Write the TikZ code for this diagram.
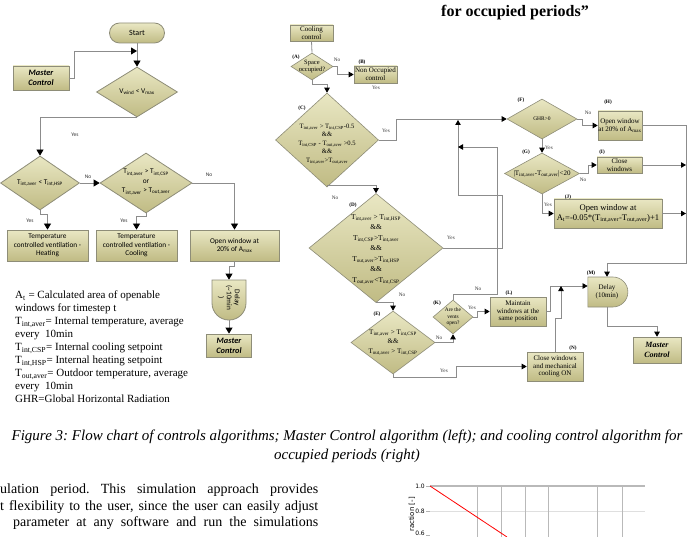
\documentclass[tikz,border=0pt]{standalone}
\usepackage{fontspec}
\setmainfont{Liberation Serif}
\newfontfamily\calib{Carlito}
\newfontfamily\chartf{DejaVu Sans}
\usetikzlibrary{shapes.geometric,shapes.misc,arrows.meta}
\definecolor{khL}{HTML}{E9E7C3}
\definecolor{khD}{HTML}{C0BB84}
\definecolor{bord}{HTML}{8E8D78}
\definecolor{lnc}{HTML}{8C8C8C}
\newcommand{\sbs}[1]{\textsubscript{#1}}
\frenchspacing
\tikzset{
 kh/.style={draw=bord, line width=0.8pt, top color=khL, bottom color=khD, inner sep=0pt, align=center},
 lbox/.style={kh, rectangle, font=\calib\fontsize{7.3}{8.6}\selectfont},
 ldia/.style={kh, diamond},
 ltxt/.style={font=\calib\fontsize{7.3}{9.5}\selectfont, inner sep=0pt, align=center},
 rbox/.style={kh, line width=0.6pt, rectangle, font=\fontsize{7}{7.8}\selectfont},
 rdia/.style={kh, line width=0.6pt, diamond},
 rtxt/.style={font=\fontsize{7}{8.5}\selectfont, inner sep=0pt, align=center},
 ln/.style={draw=lnc, line width=0.8pt},
 arrL/.style={-{Triangle[length=6pt,width=7pt,color=black]}},
 arrR/.style={-{Triangle[length=5pt,width=5.5pt,color=black]}},
 ynL/.style={font=\calib\fontsize{5.5}{6}\selectfont, inner sep=0pt, text=black!80},
 ynR/.style={font=\fontsize{5.2}{6}\selectfont, inner sep=0pt, text=black!80},
 tag/.style={font=\bfseries\fontsize{5.2}{6}\selectfont, inner sep=0pt},
}
\begin{document}
\begin{tikzpicture}[x=1pt,y=-1pt]
\useasboundingbox (0,0) rectangle (695,537);
\clip (0,0) rectangle (695,537);
\fill[white] (0,0) rectangle (695,537);

% title fragment
\node[font=\fontsize{16}{18}\selectfont\bfseries, inner sep=0pt] (title) at (515,13) {for occupied periods”};

% ================= LEFT: Master control =================
\node[lbox, rounded rectangle, minimum width=55pt, minimum height=20pt, font=\calib\fontsize{8}{9}\selectfont] (start) at (137,33) {Start};
\node[lbox, font=\calib\bfseries\itshape\fontsize{8.3}{10}\selectfont, minimum width=56pt, minimum height=24pt] (mc1) at (41,78) {Master\\Control};
\coordinate (j1) at (137,51);
\node[ldia, minimum width=81pt, minimum height=50pt] (vw) at (137,92) {};
\node[ltxt] (vwt) at (vw.center) {V\sbs{wind} < V\sbs{max}};
\node[ldia, minimum width=79pt, minimum height=54pt] (ld1) at (40,183) {};
\node[ltxt] (ld1t) at (ld1.center) {T\sbs{int,aver} < T\sbs{int,HSP}};
\node[ldia, minimum width=92pt, minimum height=60pt] (ld2) at (146,183) {};
\node[ltxt] (ld2t) at (146,182) {T\sbs{int,aver} > T\sbs{int,CSP}\\or\\T\sbs{int,aver} > T\sbs{out,aver}};
\node[lbox, minimum width=81pt, minimum height=31pt] (bh) at (47.5,245.5) {Temperature\\controlled ventilation -\\Heating};
\node[lbox, minimum width=81pt, minimum height=31pt] (bc) at (136.5,245.5) {Temperature\\controlled ventilation -\\Cooling};
\node[lbox, minimum width=89pt, minimum height=31pt] (bo) at (234.5,245.5) {Open window at\\20\% of A\sbs{max}};
\node[lbox, rounded rectangle, rounded rectangle west arc=none, rotate=-90, minimum width=40pt, minimum height=34pt, font=\calib\fontsize{7.3}{8}\selectfont] (dl) at (229,298) {Delay\\(\textasciitilde10min\\)};
\node[lbox, font=\calib\bfseries\itshape\fontsize{8.3}{10}\selectfont, minimum width=45pt, minimum height=23pt] (mc2) at (229,345.5) {Master\\Control};

\draw[ln,arrL] (mc1.east) -- ++(5,0) |- (j1);
\draw[ln,arrL] (start.south) -- (vw.north);
\draw[ln,arrL] (vw.south) -| (ld1.north);
\draw[ln,arrL] (ld1.east) -- (ld2.west);
\draw[ln,arrL] (ld1.south) -- ++(0,4) -| (bh.north);
\draw[ln,arrL] (ld2.south) -- ++(0,3) -| (bc.north);
\draw[ln,arrL] (ld2.east) -| (bo.north);
\draw[ln,arrL] (bo.south) -- ++(0,5) -| (dl.west);
\draw[ln,arrL] (dl.east) -- (mc2.north);

\node[ynL] (y1) at (75,135) {Yes};
\node[ynL] (n1) at (88,177) {No};
\node[ynL] (y2) at (30,221) {Yes};
\node[ynL] (y3) at (124,221) {Yes};
\node[ynL] (n2) at (209,175) {No};

% legend
\node[anchor=north west, align=left, inner sep=0pt, font=\fontsize{11}{13}\selectfont] (legend) at (15,291) {A\sbs{t} = Calculated area of openable\\windows for timestep t\\T\sbs{int,aver}= Internal temperature, average\\every~ 10min\\T\sbs{int,CSP}= Internal cooling setpoint\\T\sbs{int,HSP}= Internal heating setpoint\\T\sbs{out,aver}= Outdoor temperature, average\\every~ 10min\\GHR=Global Horizontal Radiation};

% ================= RIGHT: cooling control =================
\node[rbox, minimum width=43pt, minimum height=16pt] (cc) at (311.5,33) {Cooling\\control};
\node[rdia, minimum width=42pt, minimum height=27pt] (A) at (312,66.5) {};
\node[rtxt, font=\fontsize{6.5}{7}\selectfont] (At) at (A.center) {Space\\occupied?};
\node[tag] (Al) at (296,57) {(A)};
\node[rbox, minimum width=43pt, minimum height=17pt] (B) at (375.5,74.5) {Non Occupied\\control};
\node[tag] (Bl) at (362,62) {(B)};
\node[rdia, minimum width=103pt, minimum height=94pt] (C) at (327,140) {};
\node[rtxt, font=\fontsize{6.6}{8.6}\selectfont] (Ct) at (327,144) {T\sbs{int,aver} > T\sbs{int,CSP}-0.5\\\&\&\\T\sbs{int,CSP} - T\sbs{out,aver} >0.5\\\&\&\\T\sbs{int,aver}>T\sbs{out,aver}};
\node[tag] (Cl) at (302,108) {(C)};
\node[rdia, minimum width=70pt, minimum height=40pt] (F) at (542,119) {};
\node[rtxt, font=\fontsize{5.5}{6}\selectfont] (Ft) at (F.center) {GHR>0};
\node[tag] (Fl) at (521,100) {(F)};
\node[rbox, minimum width=44pt, minimum height=29pt] (H) at (620,125.5) {Open window\\at 20\% of A\sbs{max}};
\node[tag] (Hl) at (608,102) {(H)};
\node[rdia, minimum width=75pt, minimum height=41pt] (G) at (542,173.5) {};
\node[rtxt] (Gt) at (G.center) {|T\sbs{int,aver}-T\sbs{out,aver}|<20};
\node[tag] (Gl) at (526,152) {(G)};
\node[rbox, minimum width=45pt, minimum height=16pt] (I) at (619.5,165) {Close\\windows};
\node[tag] (Il) at (602,152) {(I)};
\node[rbox, minimum width=108pt, minimum height=29pt, font=\fontsize{8.6}{10}\selectfont] (J) at (608,213.5) {Open window at\\A\sbs{t}=-0.05*(T\sbs{int,aver}-T\sbs{out,aver})+1};
\node[tag] (Jl) at (568,197) {(J)};
\node[rdia, minimum width=134pt, minimum height=109pt] (D) at (376,248) {};
\node[rtxt, font=\fontsize{7.4}{10.5}\selectfont] (Dt) at (376,249) {T\sbs{int,aver} > T\sbs{int,HSP}\\\&\&\\T\sbs{int,CSP}>T\sbs{int,aver}\\\&\&\\T\sbs{out,aver}>T\sbs{int,HSP}\\\&\&\\T\sbs{out,aver}<T\sbs{int,CSP}};
\node[tag] (Dl) at (353,205) {(D)};
\node[rdia, minimum width=84pt, minimum height=63pt] (E) at (393,342.5) {};
\node[rtxt, font=\fontsize{7}{9.5}\selectfont] (Et) at (393,342.5) {T\sbs{int,aver} > T\sbs{int,CSP}\\\&\&\\T\sbs{out,aver} > T\sbs{int,CSP}};
\node[tag] (El) at (377,314) {(E)};
\node[rdia, minimum width=40pt, minimum height=34pt] (K) at (453,317) {};
\node[rtxt, font=\fontsize{5.4}{6.4}\selectfont] (Kt) at (K.center) {Are the\\vents\\open?};
\node[tag] (Kl) at (437,303) {(K)};
\node[rbox, minimum width=56pt, minimum height=29pt] (L) at (518,311.5) {Maintain\\windows at the\\same position};
\node[tag] (Ll) at (509,293) {(L)};
\node[rbox, rounded rectangle, rounded rectangle west arc=none, minimum width=40pt, minimum height=30pt] (M) at (607,292) {Delay\\(10min)};
\node[tag] (Ml) at (591,273) {(M)};
\node[rbox, minimum width=56pt, minimum height=29pt] (N) at (555,366.5) {Close windows\\and mechanical\\cooling ON};
\node[tag] (Nl) at (573,348) {(N)};
\node[rbox, font=\bfseries\itshape\fontsize{8}{9.5}\selectfont, minimum width=48pt, minimum height=26pt] (mc3) at (657,350) {Master\\Control};

\coordinate (cy) at (458,120);
\coordinate (kz) at (458,147);
\coordinate (busB) at (686,263);
\coordinate (lm) at (561,286);

\draw[ln] (cc.south) -- (A.north);
\draw[ln,arrR] (A.east) -- ++(4,0) |- (B.west);
\draw[ln,arrR] (A.south) -- ++(0,4) -| (C.north);
\draw[ln,arrR] (C.east) -- ++(18,0) |- (F.west);
\draw[ln,arrR] (F.east) -- ++(5,0) |- (H.west);
\draw[ln,arrR] (F.south) -- (G.north);
\draw[ln,arrR] (G.east) -- ++(9,0) |- (I.west);
\draw[ln,arrR] (G.south) |- (J.west);
\draw[ln,arrR] (H.east) -| (busB) -| (M.north);
\draw[ln,arrR] (I.east) -- (I.east -| busB);
\draw[ln,arrR] (J.east) -- (J.east -| busB);
\draw[ln,arrR] ([yshift=2pt]C.south) -| (D.north);
\draw[ln,arrR] (D.east) -| (502,195) -| (cy);
\draw[ln,arrR] (D.south) -| (E.north);
\draw[ln,arrR] (E.east) -| (K.south);
\draw[ln,arrR] (K.east) -- ++(4,0) |- (L.west);
\draw[ln,arrR] (K.north) |- (497,294) |- (kz);
\draw[ln,arrR] (L.east) -- ++(4,0) |- ([yshift=6pt]M.west);
\draw[ln,arrR] (N.north) -- (555,318) -| (lm);
\draw[ln,arrR] (E.south) |- (456,377) |- (N.west);
\draw[ln,arrR] (M.south) -- ++(0,19) -| (mc3.north);

\node[ynR] (rn1) at (337,60) {No};
\node[ynR] (ry1) at (376,88) {Yes};
\node[ynR] (ry2) at (386,131) {Yes};
\node[ynR] (rn2) at (588,113) {No};
\node[ynR] (ry3) at (549,148) {Yes};
\node[ynR] (rn3) at (583,180) {No};
\node[ynR] (ry4) at (548,205) {Yes};
\node[ynR] (rn4) at (335,198) {No};
\node[ynR] (ry5) at (451,238) {Yes};
\node[ynR] (rn5) at (402,295) {No};
\node[ynR] (rn6) at (478,289) {No};
\node[ynR] (ry6) at (472,308) {Yes};
\node[ynR] (rn7) at (439,338) {No};
\node[ynR] (ry7) at (444,371) {Yes};

% ================= caption and body =================
\node[font=\fontsize{15}{18}\selectfont\itshape, inner sep=0pt] (cap1) at (347,437) {Figure 3: Flow chart of controls algorithms; Master Control algorithm (left); and cooling control algorithm for};
\node[font=\fontsize{15}{18}\selectfont\itshape, inner sep=0pt] (cap2) at (347,456) {occupied periods (right)};
\node[font=\fontsize{14}{16}\selectfont, anchor=base west, inner sep=0pt] (b1) at (0,493) {\makebox[318pt][s]{ulation period. This simulation approach provides}};
\node[font=\fontsize{14}{16}\selectfont, anchor=base west, inner sep=0pt] (b2) at (0,510) {\makebox[318pt][s]{t flexibility to the user, since the user can easily adjust}};
\node[font=\fontsize{14}{16}\selectfont, anchor=base west, inner sep=0pt] (b3) at (13,526) {\makebox[305pt][s]{parameter at any software and run the simulations}};

% ================= chart fragment =================
\draw[gray!25, line width=0.6pt] (430,511) -- (645,511);
\foreach \x in {477,501,525,548,597,622} \draw[gray!55, line width=0.6pt] (\x,486) -- (\x,537);
\draw[gray!55, line width=1.6pt] (430,486) -- (645,486);
\draw[gray!60, line width=0.5pt] (426,486) -- (430,486) (426,511) -- (430,511) (426,535) -- (430,535);
\node[font=\chartf\fontsize{6}{7}\selectfont, anchor=east, inner sep=0pt] (t10) at (425,486) {1.0};
\node[font=\chartf\fontsize{6}{7}\selectfont, anchor=east, inner sep=0pt] (t08) at (425,511) {0.8};
\node[font=\chartf\fontsize{6}{7}\selectfont, anchor=east, inner sep=0pt] (t06) at (425,533) {0.6};
\node[font=\chartf\fontsize{7}{8}\selectfont, rotate=90, anchor=east, inner sep=0pt] (ylab) at (412,497) {raction [-]};
\draw[red, line width=0.8pt] (430,486) -- (507,537);
\end{tikzpicture}
\end{document}
